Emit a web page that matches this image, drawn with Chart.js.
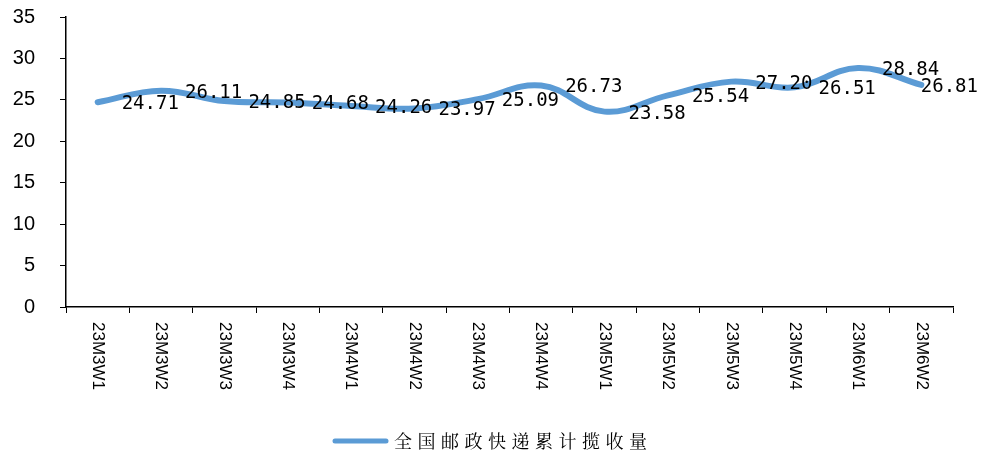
<!DOCTYPE html>
<html>
<head>
<meta charset="utf-8">
<script src="https://cdn.jsdelivr.net/npm/chart.js@4"></script>
<style>
  html, body { margin: 0; padding: 0; background: #fff; }
  #wrap { width: 990px; height: 457px; }
</style>
</head>
<body>
<div id="wrap"><canvas id="chart"></canvas></div>
<script>
// categories and series
var weeks = ['23M3W1', '23M3W2', '23M3W3', '23M3W4', '23M4W1', '23M4W2', '23M4W3',
  '23M4W4', '23M5W1', '23M5W2', '23M5W3', '23M5W4', '23M6W1', '23M6W2'];
var volume = [24.71, 26.11, 24.85, 24.68, 24.26, 23.97, 25.09, 26.73, 23.58, 25.54, 27.20, 26.51, 28.84, 26.81];
var seriesName = '全国邮政快递累计揽收量';
var yTicks = [0, 5, 10, 15, 20, 25, 30, 35];

var BLUE = '#5B9BD5';

// value labels right of each point, rotated week labels, legend
var drawExtras = {
  id: 'drawExtras',
  afterDatasetsDraw: function(chart) {
    var ctx = chart.ctx;
    var meta = chart.getDatasetMeta(0);
    ctx.save();
    ctx.fillStyle = '#000';
    ctx.font = '19px "DejaVu Sans Mono", monospace';
    ctx.textAlign = 'left';
    ctx.textBaseline = 'middle';
    meta.data.forEach(function(pt, i) {
      var txt = volume[i].toFixed(2);
      var w = ctx.measureText(txt).width;
      // keep the label inside the canvas, like the original does for the last one
      var x = Math.min(pt.x + 24, chart.width - 12 - w);
      ctx.fillText(txt, x, pt.y + 2);
    });
    ctx.restore();

    // x labels, turned clockwise
    var xs = chart.scales.x;
    ctx.save();
    ctx.fillStyle = '#000';
    ctx.font = '17px "Liberation Sans", Arial, sans-serif';
    ctx.textAlign = 'left';
    ctx.textBaseline = 'middle';
    weeks.forEach(function(w, i) {
      var x = xs.getPixelForValue(i);
      ctx.save();
      ctx.translate(x, xs.top + 15);
      ctx.rotate(Math.PI / 2);
      ctx.fillText(w, 0, 0);
      ctx.restore();
    });
    ctx.restore();

    // legend
    ctx.save();
    ctx.strokeStyle = BLUE;
    ctx.lineWidth = 5;
    ctx.lineCap = 'round';
    ctx.beginPath();
    ctx.moveTo(335, 441);
    ctx.lineTo(386, 441);
    ctx.stroke();
    ctx.fillStyle = '#000';
    ctx.font = '18px "Noto Serif CJK SC", "Noto Sans CJK SC", sans-serif';
    ctx.letterSpacing = '5.5px';
    ctx.textAlign = 'left';
    ctx.textBaseline = 'middle';
    ctx.fillText(seriesName, 394, 441);
    ctx.restore();
  }
};

new Chart(document.getElementById('chart'), {
  type: 'line',
  data: {
    labels: weeks,
    datasets: [{
      label: seriesName,
      data: volume,
      borderColor: BLUE,
      backgroundColor: BLUE,
      borderWidth: 6,
      borderCapStyle: 'round',
      pointRadius: 0,
      pointHoverRadius: 0,
      tension: 0.4,
      fill: false
    }]
  },
  options: {
    responsive: true,
    maintainAspectRatio: false,
    animation: false,
    events: [],
    layout: {
      padding: { top: 17, right: 37, bottom: 0, left: 0 }
    },
    plugins: {
      legend: { display: false },
      tooltip: { enabled: false }
    },
    scales: {
      x: {
        offset: true,
        grid: {
          offset: true,
          drawOnChartArea: false,
          drawTicks: true,
          tickLength: 6,
          color: '#000'
        },
        border: { display: true, color: '#000', width: 1.5 },
        ticks: { display: false },
        afterFit: function(s) { s.height = 150; }
      },
      y: {
        min: 0,
        max: 35,
        afterBuildTicks: function(s) {
          s.ticks = yTicks.map(function(v) { return { value: v }; });
        },
        grid: {
          drawOnChartArea: false,
          drawTicks: true,
          tickLength: 6,
          color: '#000'
        },
        border: { display: true, color: '#000', width: 1.5 },
        ticks: {
          color: '#000',
          padding: 25,
          font: { family: '"Liberation Sans", Arial, sans-serif', size: 20 }
        },
        afterFit: function(s) {
          s.width = 66;
          // the big label gap should not push the plot down
          s.paddingTop = 0;
          s.paddingBottom = 0;
        }
      }
    }
  },
  plugins: [drawExtras]
});
</script>
</body>
</html>
